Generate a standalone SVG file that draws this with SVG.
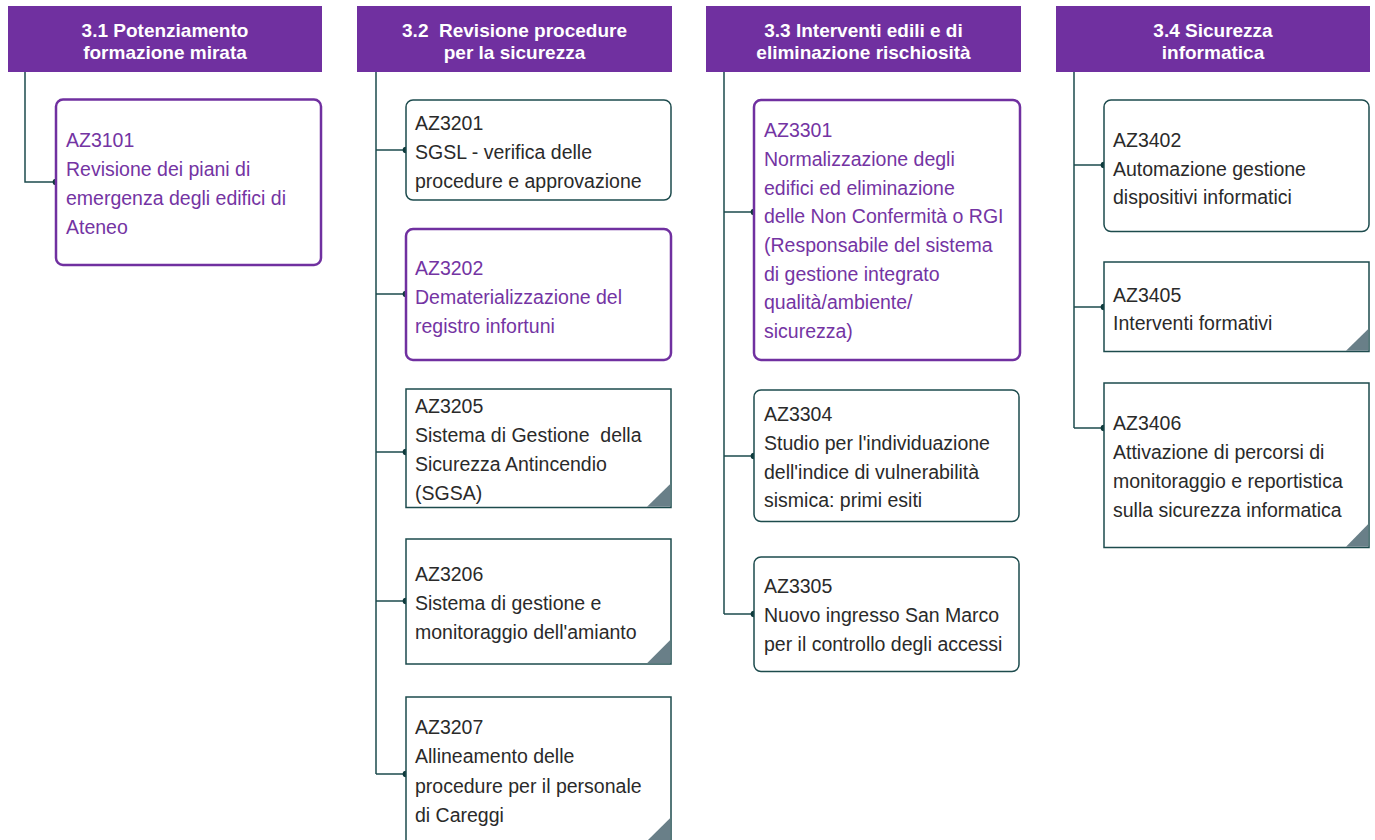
<svg xmlns="http://www.w3.org/2000/svg" width="1375" height="840" viewBox="0 0 1375 840">
<style>
.hdr{fill:#7030a0}
.ht{font-family:"Liberation Sans",Arial,sans-serif;font-weight:bold;font-size:19px;fill:#ffffff;text-anchor:middle}
.bp{fill:#ffffff;stroke:#7030a0;stroke-width:2.5}
.bt{fill:#ffffff;stroke:#1d4b4d;stroke-width:1.5}
.tri{fill:#697f88}
.tp{font-family:"Liberation Sans",Arial,sans-serif;font-size:19.5px;fill:#7434a3}
.tt{font-family:"Liberation Sans",Arial,sans-serif;font-size:19.5px;fill:#2a2a2a}
.cn{fill:none;stroke:#1d4b4d;stroke-width:1.5}
.dot{fill:#0f3a3b}
</style>
<rect width="1375" height="840" fill="#ffffff"/>

<g id="connectors">
<path class="cn" d="M25 72 V182 H56"/>
<path class="cn" d="M376 72 V774 M376 150 H406 M376 294 H406 M376 452 H406 M376 601 H406 M376 774 H406"/>
<path class="cn" d="M724 72 V614 M724 212 H754 M724 456 H754 M724 614 H754"/>
<path class="cn" d="M1074 72 V428 M1074 165 H1104 M1074 307 H1104 M1074 428 H1104"/>
<circle class="dot" cx="56" cy="182" r="3.3"/>
<circle class="dot" cx="406" cy="150" r="3.3"/>
<circle class="dot" cx="406" cy="294" r="3.3"/>
<circle class="dot" cx="406" cy="452" r="3.3"/>
<circle class="dot" cx="406" cy="601" r="3.3"/>
<circle class="dot" cx="406" cy="774" r="3.3"/>
<circle class="dot" cx="754" cy="212" r="3.3"/>
<circle class="dot" cx="754" cy="456" r="3.3"/>
<circle class="dot" cx="754" cy="614" r="3.3"/>
<circle class="dot" cx="1104" cy="165" r="3.3"/>
<circle class="dot" cx="1104" cy="307" r="3.3"/>
<circle class="dot" cx="1104" cy="428" r="3.3"/>
</g>

<g id="h31">
<rect class="hdr" x="8" y="6" width="314" height="66"/>
<text class="ht" x="165" y="37">3.1 Potenziamento</text>
<text class="ht" x="165" y="58.5">formazione mirata</text>
</g>
<g id="h32">
<rect class="hdr" x="357" y="6" width="315" height="66"/>
<text class="ht" x="514.5" y="37" xml:space="preserve">3.2  Revisione procedure</text>
<text class="ht" x="514.5" y="58.5">per la sicurezza</text>
</g>
<g id="h33">
<rect class="hdr" x="706" y="6" width="315" height="66"/>
<text class="ht" x="863.5" y="37">3.3 Interventi edili e di</text>
<text class="ht" x="863.5" y="58.5">eliminazione rischiosità</text>
</g>
<g id="h34">
<rect class="hdr" x="1056" y="6" width="314" height="66"/>
<text class="ht" x="1213" y="37">3.4 Sicurezza</text>
<text class="ht" x="1213" y="58.5">informatica</text>
</g>

<g id="AZ3101">
<rect class="bp" x="56" y="99.5" width="265" height="165.5" rx="7"/>
<text class="tp" x="66" y="147">AZ3101</text>
<text class="tp" x="66" y="176">Revisione dei piani di</text>
<text class="tp" x="66" y="205">emergenza degli edifici di</text>
<text class="tp" x="66" y="234">Ateneo</text>
</g>

<g id="AZ3201">
<rect class="bt" x="406" y="100" width="265" height="100" rx="7"/>
<text class="tt" x="415" y="130">AZ3201</text>
<text class="tt" x="415" y="159">SGSL - verifica delle</text>
<text class="tt" x="415" y="188">procedure e approvazione</text>
</g>
<g id="AZ3202">
<rect class="bp" x="406" y="229" width="265" height="131" rx="7"/>
<text class="tp" x="415" y="275">AZ3202</text>
<text class="tp" x="415" y="304">Dematerializzazione del</text>
<text class="tp" x="415" y="332.5">registro infortuni</text>
</g>
<g id="AZ3205">
<rect class="bt" x="406" y="389" width="265" height="118.5"/>
<polygon class="tri" points="670.25,484 670.25,506.75 647,506.75"/>
<text class="tt" x="415" y="413">AZ3205</text>
<text class="tt" x="415" y="442" xml:space="preserve">Sistema di Gestione  della</text>
<text class="tt" x="415" y="471">Sicurezza Antincendio</text>
<text class="tt" x="415" y="500">(SGSA)</text>
</g>
<g id="AZ3206">
<rect class="bt" x="406" y="539" width="265" height="125"/>
<polygon class="tri" points="670.25,640 670.25,663.25 647,663.25"/>
<text class="tt" x="415" y="581">AZ3206</text>
<text class="tt" x="415" y="610">Sistema di gestione e</text>
<text class="tt" x="415" y="639">monitoraggio dell'amianto</text>
</g>
<g id="AZ3207">
<rect class="bt" x="406" y="697" width="265" height="150"/>
<polygon class="tri" points="670.25,818 670.25,840 648,840"/>
<text class="tt" x="415" y="734">AZ3207</text>
<text class="tt" x="415" y="763">Allineamento delle</text>
<text class="tt" x="415" y="793">procedure per il personale</text>
<text class="tt" x="415" y="822">di Careggi</text>
</g>

<g id="AZ3301">
<rect class="bp" x="754" y="100" width="266" height="260" rx="7"/>
<text class="tp" x="764" y="137">AZ3301</text>
<text class="tp" x="764" y="166">Normalizzazione degli</text>
<text class="tp" x="764" y="194.5">edifici ed eliminazione</text>
<text class="tp" x="764" y="223">delle Non Confermità o RGI</text>
<text class="tp" x="764" y="252">(Responsabile del sistema</text>
<text class="tp" x="764" y="280.5">di gestione integrato</text>
<text class="tp" x="764" y="309">qualità/ambiente/</text>
<text class="tp" x="764" y="338">sicurezza)</text>
</g>
<g id="AZ3304">
<rect class="bt" x="754" y="390" width="265" height="131.5" rx="7"/>
<text class="tt" x="764" y="421">AZ3304</text>
<text class="tt" x="764" y="450">Studio per l'individuazione</text>
<text class="tt" x="764" y="478.5">dell'indice di vulnerabilità</text>
<text class="tt" x="764" y="507">sismica: primi esiti</text>
</g>
<g id="AZ3305">
<rect class="bt" x="754" y="557" width="265" height="114.5" rx="7"/>
<text class="tt" x="764" y="593">AZ3305</text>
<text class="tt" x="764" y="622">Nuovo ingresso San Marco</text>
<text class="tt" x="764" y="651">per il controllo degli accessi</text>
</g>

<g id="AZ3402">
<rect class="bt" x="1104" y="100" width="265" height="131.5" rx="7"/>
<text class="tt" x="1113" y="147">AZ3402</text>
<text class="tt" x="1113" y="176">Automazione gestione</text>
<text class="tt" x="1113" y="204">dispositivi informatici</text>
</g>
<g id="AZ3405">
<rect class="bt" x="1104" y="262" width="265" height="89.5"/>
<polygon class="tri" points="1368.25,329 1368.25,350.75 1346,350.75"/>
<text class="tt" x="1113" y="301.5">AZ3405</text>
<text class="tt" x="1113" y="330">Interventi formativi</text>
</g>
<g id="AZ3406">
<rect class="bt" x="1104" y="383" width="265" height="164.5"/>
<polygon class="tri" points="1368.25,524 1368.25,546.75 1346,546.75"/>
<text class="tt" x="1113" y="430">AZ3406</text>
<text class="tt" x="1113" y="459">Attivazione di percorsi di</text>
<text class="tt" x="1113" y="488">monitoraggio e reportistica</text>
<text class="tt" x="1113" y="516.5">sulla sicurezza informatica</text>
</g>
</svg>
